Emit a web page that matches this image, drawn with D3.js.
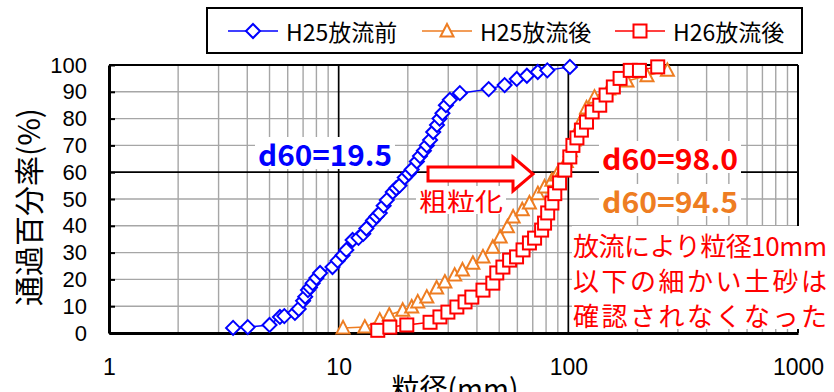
<!DOCTYPE html>
<html><head><meta charset="utf-8">
<script src="https://cdn.jsdelivr.net/npm/d3@7"></script>
<style>
body{margin:0;background:#fff;}
text{font-family:"Noto Sans CJK JP","Noto Sans",sans-serif;}
text.num{font-family:"Liberation Sans",Arial,sans-serif;}
</style></head>
<body><svg id="c" width="834" height="392"></svg>
<script>
// ---- data ----
const seriesNames = ["H25放流前", "H25放流後", "H26放流後"];
const xTicks = [1, 10, 100, 1000];
const yTicks = [0, 10, 20, 30, 40, 50, 60, 70, 80, 90, 100];
const before25 = [[3.47,1.9],[4.02,2.2],[5.0,3],[5.55,6],[5.8,6.3],[6.45,7.5],[6.7,9],[7.0,12],[7.15,13.5],[7.35,16],[7.5,17],[7.7,18.6],[8.0,20.5],[8.3,22.4],[9.4,24.6],[9.9,27],[10.4,29],[10.8,31],[11.5,34.7],[12.2,35.5],[12.8,37],[13.2,39],[14.1,42],[14.6,43.5],[15.1,44.8],[15.7,47.5],[16.2,49.6],[17.2,52.6],[17.8,54],[18.4,55],[19.4,58],[20.2,59.5],[20.8,61],[21.9,64],[22.6,66],[23.5,68],[24.2,70],[25,72],[25.8,75],[26.8,77.6],[27.5,80],[28.3,82],[29.3,85],[30.5,87],[33.7,89.5],[45,91],[52.8,92.5],[59.6,94.8],[66,96],[73.6,97.4],[81,98],[101.6,99.3]];
const after25 = [[10.45,1.9],[13.0,2.2],[15.1,4.8],[16.6,6.7],[19,8.5],[20.8,9.7],[22.1,11.6],[24.2,13.4],[26.7,16.8],[29,19],[32,21.6],[34.6,23.5],[38.4,26],[42.5,28.4],[46.9,32],[50.5,35.8],[54.3,39.6],[57.5,43.3],[63,46],[67.7,48.5],[73.7,52],[78.8,54.5],[84.8,57],[89,59],[94.5,61],[98,64],[102,68],[106,72],[110,76],[115,80],[120,84],[130,88],[150,91],[180,94],[220,96],[270,98]];
const after26 = [[14.8,1],[16.7,2.2],[19.8,3],[25,4],[27.6,6],[29.9,7.8],[32.7,9.7],[35.5,11.6],[38,13.4],[42.5,16],[46.9,18.6],[48.8,22.4],[51.9,24.6],[55.5,27.2],[59.5,28.4],[63.5,31],[67.7,33.6],[71.3,35.4],[76.5,38.4],[78.8,41],[81.3,44.8],[84.8,48.5],[87.3,52],[91.6,56],[96.5,60.8],[101.5,65.7],[104.7,70],[109,72.8],[114,75.7],[120,78.7],[127,82.5],[137,85],[146,88.8],[157,91.8],[168,95],[186,98],[204,98],[245,99.3]];
const noteLines = ["放流により粒径10mm", "以下の細かい土砂は", "確認されなくなった"];
const d60Labels = ["d60=19.5", "d60=98.0", "d60=94.5"];

// ---- chart ----
const svg = d3.select("#c");
const L=109, R=798, T=65, B=333;
const x = d3.scaleLog().domain([1,1000]).range([L,R]);
const y = d3.scaleLinear().domain([0,100]).range([B,T]);
const grey="#a6a6a6", blue="#0000ff", orange="#ee7d22", red="#ff0000";

svg.append("rect").attr("width",834).attr("height",392).attr("fill","#fff");

// grid
const g = svg.append("g");
const minor = [];
[1,10,100].forEach(d=>{for(let k=2;k<=9;k++) minor.push(k*d);});
g.selectAll(".vx").data(minor).join("line")
  .attr("x1",d=>x(d)).attr("x2",d=>x(d)).attr("y1",T).attr("y2",B)
  .attr("stroke",grey).attr("stroke-width",1.4);
g.selectAll(".hy").data(yTicks.filter(v=>v>0&&v<100&&v!==60)).join("line")
  .attr("x1",L).attr("x2",R).attr("y1",d=>y(d)).attr("y2",d=>y(d))
  .attr("stroke",grey).attr("stroke-width",1.4);
g.selectAll(".mx").data([10,100]).join("line")
  .attr("x1",d=>x(d)).attr("x2",d=>x(d)).attr("y1",T).attr("y2",B)
  .attr("stroke","#000").attr("stroke-width",1.7);
g.append("line").attr("x1",L).attr("x2",R).attr("y1",y(60)).attr("y2",y(60))
  .attr("stroke","#000").attr("stroke-width",1.7);

// border
svg.append("line").attr("x1",L).attr("x2",R).attr("y1",T).attr("y2",T).attr("stroke","#000").attr("stroke-width",2);
svg.append("line").attr("x1",R).attr("x2",R).attr("y1",T).attr("y2",B).attr("stroke","#000").attr("stroke-width",2);

// axes
const yAx = svg.append("g").attr("transform",`translate(${L},0)`)
  .call(d3.axisLeft(y).tickValues(yTicks).tickSizeInner(-6).tickSizeOuter(0).tickPadding(22));
yAx.select(".domain").attr("stroke","#000").attr("stroke-width",3);
yAx.selectAll(".tick line").attr("stroke","#000").attr("stroke-width",2);
yAx.selectAll("text").attr("class","num").style("font-size","22px").attr("fill","#000");

const xAx = svg.append("g").attr("transform",`translate(0,${B})`)
  .call(d3.axisBottom(x).tickValues(xTicks).tickFormat(d3.format("d")).tickSize(0).tickPadding(26));
xAx.select(".domain").attr("stroke","#000").attr("stroke-width",3);
xAx.selectAll("text").attr("class","num").style("font-size","23px").attr("fill","#000");

// titles
svg.append("text").attr("transform","translate(27,207) rotate(-90)")
  .attr("text-anchor","middle").attr("dominant-baseline","central")
  .attr("font-size",30).attr("fill","#000").text("通過百分率(%)");
svg.append("text").attr("x",455).attr("y",387)
  .attr("text-anchor","middle").attr("dominant-baseline","central")
  .attr("font-size",28).attr("fill","#000").text("粒径(mm)");

// markers
function marker(sel, type, color){
  if(type==="diamond") sel.append("path").attr("d","M0,-7L7,0L0,7L-7,0Z");
  else if(type==="triangle") sel.append("path").attr("d","M0,-7L6.5,5.5L-6.5,5.5Z");
  else sel.append("rect").attr("x",-6.5).attr("y",-6.5).attr("width",13).attr("height",13);
  sel.selectAll("path,rect").attr("fill","#fff").attr("stroke",color).attr("stroke-width",2);
}
const series = [
  {name:seriesNames[0], data:before25, color:blue, type:"diamond"},
  {name:seriesNames[1], data:after25, color:orange, type:"triangle"},
  {name:seriesNames[2], data:after26, color:red, type:"square"}
];
const line = d3.line().x(d=>x(d[0])).y(d=>y(d[1]));
series.forEach(s=>{
  svg.append("path").attr("d",line(s.data)).attr("fill","none").attr("stroke",s.color).attr("stroke-width",1.5);
  svg.append("g").selectAll("g").data(s.data).join("g")
    .attr("transform",d=>`translate(${x(d[0])},${y(d[1])})`)
    .each(function(){marker(d3.select(this),s.type,s.color);});
});

// label boxes
function label(txt, cx, cy, w, h, color, size, weight, len){
  svg.append("rect").attr("x",cx-w/2).attr("y",cy-h/2).attr("width",w).attr("height",h).attr("fill","#fff");
  const t = svg.append("text").attr("x",cx).attr("y",cy).attr("text-anchor","middle")
    .attr("dominant-baseline","central").attr("font-size",size).attr("font-weight",weight)
    .attr("fill",color).text(txt);
  if(len) t.attr("textLength",len).attr("lengthAdjust","spacingAndGlyphs");
}
label(d60Labels[0], 325, 153, 140, 32, blue, 29, "bold", 134);
label(d60Labels[1], 670, 157, 142, 32, red, 29, "bold", 136);
label(d60Labels[2], 670, 200, 142, 32, orange, 29, "bold", 136);
label("粗粒化", 461, 200, 90, 28, red, 25, "normal", 84);

// arrow
svg.append("path")
  .attr("d","M428,167L513,167L513,157L533,174L513,191L513,181L428,181Z")
  .attr("fill","#fff").attr("stroke",red).attr("stroke-width",3);

// note box
svg.append("rect").attr("x",572).attr("y",226).attr("width",262).attr("height",103).attr("fill","#fff");
svg.selectAll(".note").data(noteLines).join("text")
  .attr("x",573).attr("y",(d,i)=>244+i*35).attr("dominant-baseline","central")
  .attr("font-size",26).attr("fill",red).attr("textLength",254).attr("lengthAdjust","spacing")
  .text(d=>d);

// legend
const lg = svg.append("g");
lg.append("rect").attr("x",207).attr("y",8).attr("width",595).attr("height",45)
  .attr("fill","#fff").attr("stroke","#000").attr("stroke-width",2);
const legX = [228, 422, 615];
series.forEach((s,i)=>{
  const x0 = legX[i];
  lg.append("line").attr("x1",x0).attr("x2",x0+50).attr("y1",31).attr("y2",31).attr("stroke",s.color).attr("stroke-width",1.5);
  const m = lg.append("g").attr("transform",`translate(${x0+25},31)`);
  marker(m, s.type, s.color);
  lg.append("text").attr("x",x0+58).attr("y",31).attr("dominant-baseline","central")
    .attr("font-size",23).attr("fill","#000").text(s.name);
});
</script></body></html>
